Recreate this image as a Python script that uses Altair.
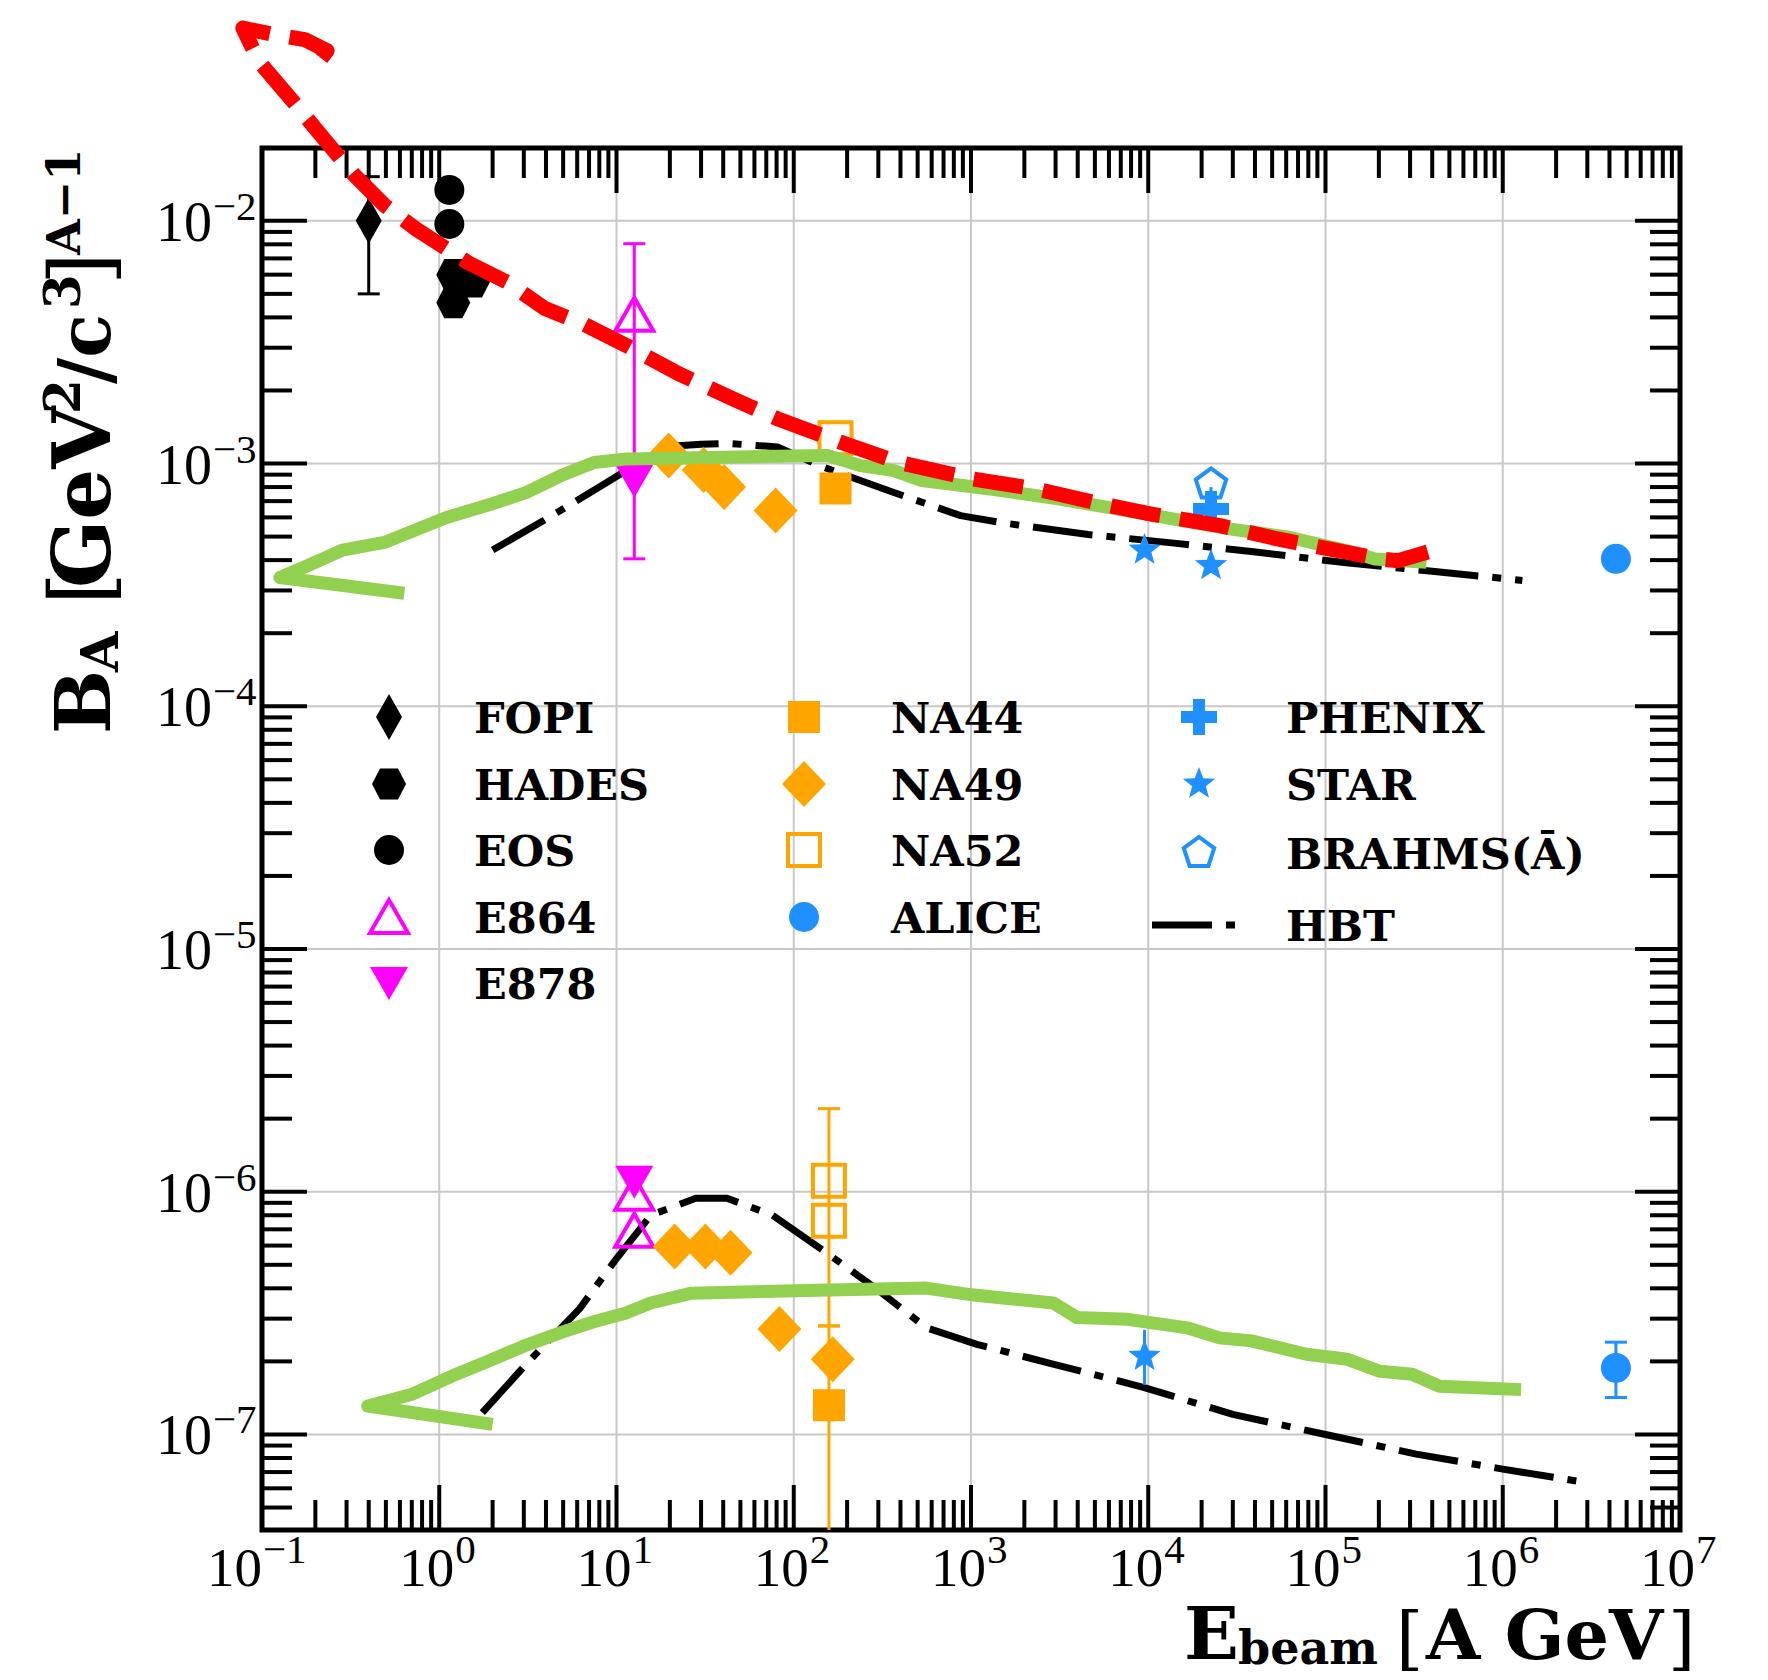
import altair as alt
import pandas as pd

# ---------------- data ----------------
FOPI_X = [0.40]
FOPI_Y = [1.0e-2]
HADES_X = [1.20, 1.20, 1.55]
HADES_Y = [6.0e-3, 4.6e-3, 5.6e-3]
EOS_X = [1.14, 1.14]
EOS_Y = [1.34e-2, 9.7e-3]
E864_X = [12.6, 12.6, 12.6]
E864_Y = [4.1e-3, 9.8e-7, 6.9e-7]
E878_X = [12.6, 12.6]
E878_Y = [8.5e-4, 1.10e-6]
NA44_X = [172, 158]
NA44_Y = [7.9e-4, 1.32e-7]
NA49_X = [19.7, 31.0, 40.5, 79.0, 21.3, 31.7, 44.0, 83.0, 166.0]
NA49_Y = [1.08e-3, 9.4e-4, 8.0e-4, 6.4e-4, 5.95e-7, 5.95e-7, 5.6e-7, 2.72e-7, 2.04e-7]
NA52_X = [172, 158, 158]
NA52_Y = [1.27e-3, 1.11e-6, 7.6e-7]
ALICE_X = [4.35e6, 4.35e6]
ALICE_Y = [4.05e-4, 1.88e-7]
PHENIX_X = [2.26e4]
PHENIX_Y = [6.5e-4]
STAR_X = [9.53e3, 2.26e4, 9.53e3]
STAR_Y = [4.4e-4, 3.8e-4, 2.1e-7]
BRAHMS_X = [2.26e4]
BRAHMS_Y = [8.2e-4]

# error bars
ERR_EXP = ["FOPI", "E864", "NA52", "NA44", "STAR", "ALICE", "BRAHMS"]
ERR_X = [0.40, 12.6, 158, 158, 9.53e3, 4.35e6, 2.26e4]
ERR_LO = [5.0e-3, 4.05e-4, 2.8e-7, 1.0e-8, 1.6e-7, 1.42e-7, 6.7e-4]
ERR_HI = [1.52e-2, 8.05e-3, 2.2e-6, 2.8e-7, 2.7e-7, 2.4e-7, 8.0e-4]
ERR_CAP = [True, True, True, True, False, True, False]

# HBT curves
HBT_UP_X = [2.0, 4.0, 8.0, 15.9, 21.4, 30, 43, 81, 140, 200, 367, 873, 1500, 4580, 1.4e4, 4.28e4, 1.31e5, 4.0e5, 1.29e6]
HBT_UP_Y = [4.4e-4, 5.9e-4, 8.0e-4, 1.09e-3, 1.18e-3, 1.20e-3, 1.21e-3, 1.17e-3, 9.8e-4, 8.9e-4, 7.6e-4, 6.1e-4, 5.7e-4, 5.1e-4, 4.7e-4, 4.3e-4, 3.9e-4, 3.6e-4, 3.3e-4]
HBT_LO_X = [1.75, 3.2, 6.2, 9.8, 15.6, 28, 42, 76, 148, 290, 560, 1080, 2900, 9500, 3.0e4, 1.0e5, 3.25e5, 1.0e6, 3.1e6]
HBT_LO_Y = [1.23e-7, 2.0e-7, 3.3e-7, 5.2e-7, 8.0e-7, 9.4e-7, 9.4e-7, 8.0e-7, 5.7e-7, 4.0e-7, 2.75e-7, 2.35e-7, 1.95e-7, 1.56e-7, 1.21e-7, 1.0e-7, 8.3e-8, 7.2e-8, 6.3e-8]

# hand-drawn green arrows (path order)
GREEN_UP_X = [3.715e5, 1.9e5, 1.31e5, 6.22e4, 2.94e4, 1.4e4, 6640, 3155, 1290, 528, 367, 238, 155, 11.5, 7.46, 4.84, 3.08, 1.97, 1.09, 0.49, 0.284, 0.182, 0.126, 0.635]
GREEN_UP_Y = [3.92e-4, 4.04e-4, 4.38e-4, 4.97e-4, 5.37e-4, 5.90e-4, 6.50e-4, 7.14e-4, 7.85e-4, 8.51e-4, 9.35e-4, 9.8e-4, 1.08e-3, 1.045e-3, 1.01e-3, 8.9e-4, 7.59e-4, 6.81e-4, 5.98e-4, 4.73e-4, 4.40e-4, 3.80e-4, 3.39e-4, 2.92e-4]
GREEN_LO_X = [1.27e6, 4.4e5, 3.08e5, 2.03e5, 1.33e5, 7.82e4, 3.82e4, 2.52e4, 1.66e4, 7660, 3970, 2920, 1510, 1010, 558, 158, 26.5, 15.6, 11.2, 7.53, 5.07, 2.99, 1.87, 1.18, 0.695, 0.395, 2.0]
GREEN_LO_Y = [1.53e-7, 1.58e-7, 1.77e-7, 1.82e-7, 2.04e-7, 2.14e-7, 2.43e-7, 2.50e-7, 2.75e-7, 2.98e-7, 3.03e-7, 3.48e-7, 3.65e-7, 3.76e-7, 4.01e-7, 3.94e-7, 3.82e-7, 3.48e-7, 3.16e-7, 2.92e-7, 2.66e-7, 2.31e-7, 2.0e-7, 1.74e-7, 1.46e-7, 1.31e-7, 1.10e-7]

# hand-drawn red dashed arrow (path order, curl first)
RED_X = [0.216, 0.233, 0.174, 0.112, 0.078, 0.0966, 0.150, 0.200, 0.330, 0.490, 0.730, 1.46, 2.40, 3.95, 6.50, 11.8, 22.5, 47.4, 80.7, 186, 392, 1030, 2340, 4930, 1.04e4, 2.54e4, 5.36e4, 1.31e5, 2.05e5, 2.57e5, 3.78e5]
RED_Y = [0.0467, 0.0502, 0.0558, 0.0589, 0.0622, 0.0451, 0.0310, 0.0240, 0.0155, 0.0116, 0.00931, 0.00671, 0.00560, 0.00435, 0.00376, 0.00302, 0.00234, 0.00182, 0.00153, 0.00122, 0.00101, 8.63e-4, 7.85e-4, 6.92e-4, 6.19e-4, 5.55e-4, 4.89e-4, 4.31e-4, 4.04e-4, 3.98e-4, 4.32e-4]

# axes
X_MAJOR = [1e-1, 1e0, 1e1, 1e2, 1e3, 1e4, 1e5, 1e6, 1e7]
X_LABEL_EXP = ["\u22121", "0", "1", "2", "3", "4", "5", "6", "7"]
Y_MAJOR = [1e-7, 1e-6, 1e-5, 1e-4, 1e-3, 1e-2]
Y_LABEL_EXP = ["\u22127", "\u22126", "\u22125", "\u22124", "\u22123", "\u22122"]
MINOR_MULT = [2, 3, 4, 5, 6, 7, 8, 9]
X_DOMAIN = [1e-1, 1e7]
Y_DOMAIN = [4.04e-8, 1.995e-2]

# ---------------- styling ----------------
W, H = 1418, 1382
XS = alt.Scale(type="log", domain=X_DOMAIN, nice=False)
YS = alt.Scale(type="log", domain=Y_DOMAIN, nice=False)
BLACK, MAGENTA, ORANGE, BLUE = "#000000", "#ff00ff", "#ffa500", "#1e90ff"
GREEN, RED = "#92d050", "#ff0000"
SERIF = "Liberation Serif"
BOLD = "DejaVu Serif"

P = {
    "thin_diamond": "M0,-1.15L0.65,0L0,1.15L-0.65,0Z",
    "hexagon": "M-0.85,0L-0.45,-0.78L0.45,-0.78L0.85,0L0.45,0.78L-0.45,0.78Z",
    "tri_up": "M0,-0.85L0.95,0.8L-0.95,0.8Z",
    "tri_down": "M0,0.85L0.95,-0.8L-0.95,-0.8Z",
    "square": "M-0.8,-0.8L0.8,-0.8L0.8,0.8L-0.8,0.8Z",
    "diamond": "M0,-1.15L1.1,0L0,1.15L-1.1,0Z",
    "plus": "M-0.3,-0.9L0.3,-0.9L0.3,-0.3L0.9,-0.3L0.9,0.3L0.3,0.3L0.3,0.9L-0.3,0.9L-0.3,0.3L-0.9,0.3L-0.9,-0.3L-0.3,-0.3Z",
    "star": "M0,-0.85L0.2116,-0.2912L0.8084,-0.2627L0.3424,0.1112L0.4996,0.6877L0,0.36L-0.4996,0.6877L-0.3424,0.1112L-0.8084,-0.2627L-0.2116,-0.2912Z",
    "pentagon": "M0,-0.8L0.7608,-0.2472L0.4702,0.6472L-0.4702,0.6472L-0.7608,-0.2472Z",
}

EXPS = [
    ("FOPI", FOPI_X, FOPI_Y, P["thin_diamond"], BLACK, True, 1600),
    ("HADES", HADES_X, HADES_Y, P["hexagon"], BLACK, True, 1600),
    ("EOS", EOS_X, EOS_Y, "circle", BLACK, True, 900),
    ("E864", E864_X, E864_Y, P["tri_up"], MAGENTA, False, 1600),
    ("E878", E878_X, E878_Y, P["tri_down"], MAGENTA, True, 1600),
    ("NA44", NA44_X, NA44_Y, P["square"], ORANGE, True, 1600),
    ("NA49", NA49_X, NA49_Y, P["diamond"], ORANGE, True, 1600),
    ("NA52", NA52_X, NA52_Y, P["square"], ORANGE, False, 1600),
    ("ALICE", ALICE_X, ALICE_Y, "circle", BLUE, True, 900),
    ("PHENIX", PHENIX_X, PHENIX_Y, P["plus"], BLUE, True, 1600),
    ("STAR", STAR_X, STAR_Y, P["star"], BLUE, True, 1600),
    ("BRAHMS", BRAHMS_X, BRAHMS_Y, P["pentagon"], BLUE, False, 1600),
]
EXP_COLOR = {e[0]: e[4] for e in EXPS}
LEGEND_LABEL = {"BRAHMS": "BRAHMS(\u0100)"}

ONE = pd.DataFrame({"k": [0]})


def X(field="x"):
    return alt.X(f"{field}:Q", scale=XS, axis=None)


def Y(field="y"):
    return alt.Y(f"{field}:Q", scale=YS, axis=None)


layers = []

# grid
gx = pd.DataFrame({"v": X_MAJOR[1:-1]})
gy = pd.DataFrame({"v": Y_MAJOR})
layers.append(alt.Chart(gx).mark_rule(color="#c8c8c8", strokeWidth=2).encode(
    x=X("v"), y=alt.value(0), y2=alt.value(H)))
layers.append(alt.Chart(gy).mark_rule(color="#c8c8c8", strokeWidth=2).encode(
    y=Y("v"), x=alt.value(0), x2=alt.value(W)))

# ticks (inward on all four sides)
x_minor = [m * 10.0 ** d for d in range(-1, 7) for m in MINOR_MULT]
y_minor = [m * 10.0 ** d for d in range(-8, -1) for m in MINOR_MULT
           if Y_DOMAIN[0] < m * 10.0 ** d < Y_DOMAIN[1]]
for vals, ln in ((X_MAJOR, 45), (x_minor, 30)):
    d = pd.DataFrame({"v": vals})
    layers.append(alt.Chart(d).mark_rule(color=BLACK, strokeWidth=4).encode(
        x=X("v"), y=alt.value(H), y2=alt.value(H - ln)))
    layers.append(alt.Chart(d).mark_rule(color=BLACK, strokeWidth=4).encode(
        x=X("v"), y=alt.value(0), y2=alt.value(ln)))
for vals, ln in ((Y_MAJOR, 45), (y_minor, 30)):
    d = pd.DataFrame({"v": vals})
    layers.append(alt.Chart(d).mark_rule(color=BLACK, strokeWidth=4).encode(
        y=Y("v"), x=alt.value(0), x2=alt.value(ln)))
    layers.append(alt.Chart(d).mark_rule(color=BLACK, strokeWidth=4).encode(
        y=Y("v"), x=alt.value(W), x2=alt.value(W - ln)))


def line_layer(xs, ys, color, width, dash=None, join="round"):
    df = pd.DataFrame({"x": xs, "y": ys, "i": list(range(len(xs)))})
    kw = dict(color=color, strokeWidth=width, strokeJoin=join)
    if dash:
        kw["strokeDash"] = dash
    return alt.Chart(df).mark_line(**kw).encode(x=X(), y=Y(), order=alt.Order("i:Q"))


HBT_DASH = [60, 14, 9, 14]
layers.append(line_layer(HBT_UP_X, HBT_UP_Y, BLACK, 7, HBT_DASH))
layers.append(line_layer(HBT_LO_X, HBT_LO_Y, BLACK, 7, HBT_DASH))

# error bars
err = pd.DataFrame({"exp": ERR_EXP, "x": ERR_X, "lo": ERR_LO, "hi": ERR_HI, "cap": ERR_CAP})
err["c"] = [EXP_COLOR[e] for e in ERR_EXP]
layers.append(alt.Chart(err).mark_rule(strokeWidth=3, clip=True).encode(
    x=X(), y=Y("lo"), y2=alt.Y2("hi:Q"), color=alt.Color("c:N", scale=None)))
for end in ("lo", "hi"):
    layers.append(alt.Chart(err).transform_filter("datum.cap").mark_rule(
        strokeWidth=3, clip=True, xOffset=-11, x2Offset=11).encode(
        x=X(), x2=alt.X2("x:Q"), y=Y(end), color=alt.Color("c:N", scale=None)))

# data points
for name, xs, ys, shape, color, filled, size in EXPS:
    df = pd.DataFrame({"x": xs, "y": ys})
    kw = dict(shape=shape, size=size, opacity=1, filled=filled, color=color)
    if not filled:
        kw["strokeWidth"] = 4
    layers.append(alt.Chart(df).mark_point(**kw).encode(x=X(), y=Y()))

# hand-drawn arrows
layers.append(line_layer(GREEN_UP_X, GREEN_UP_Y, GREEN, 13))
layers.append(line_layer(GREEN_LO_X, GREEN_LO_Y, GREEN, 13))
layers.append(line_layer(RED_X, RED_Y, RED, 15, [50, 20]))

# legend (pixel layout inside the frame)
LEG_MARK_X = [127, 542, 937]
LEG_TEXT_X = [212, 629, 1024]
LEG_ROWS = [[569, 636, 702, 769, 835], [569, 636, 702, 769], [569, 636, 705, 777]]
LEG_COLS = [["FOPI", "HADES", "EOS", "E864", "E878"],
            ["NA44", "NA49", "NA52", "ALICE"],
            ["PHENIX", "STAR", "BRAHMS", "HBT"]]
style = {e[0]: e for e in EXPS}
for ci, col in enumerate(LEG_COLS):
    for ri, name in enumerate(col):
        py = LEG_ROWS[ci][ri]
        if name == "HBT":
            layers.append(alt.Chart(ONE).mark_rule(color=BLACK, strokeWidth=7, strokeDash=HBT_DASH).encode(
                x=alt.value(LEG_MARK_X[ci] - 47), x2=alt.value(LEG_MARK_X[ci] + 36), y=alt.value(py)))
        else:
            _, _, _, shape, color, filled, size = style[name]
            kw = dict(shape=shape, size=size, opacity=1, filled=filled, color=color)
            if not filled:
                kw["strokeWidth"] = 4
            layers.append(alt.Chart(ONE).mark_point(**kw).encode(
                x=alt.value(LEG_MARK_X[ci]), y=alt.value(py)))
        layers.append(alt.Chart(ONE).mark_text(
            text=LEGEND_LABEL.get(name, name), font=BOLD, fontWeight="bold", fontSize=43,
            align="left", baseline="alphabetic", color=BLACK).encode(
            x=alt.value(LEG_TEXT_X[ci]), y=alt.value(py + 16)))

# tick labels
xl = pd.DataFrame({"v": X_MAJOR, "exp": X_LABEL_EXP})
xl["neg"] = [e.startswith("\u2212") for e in X_LABEL_EXP]
for neg, dx in ((True, 0), (False, 15)):
    sub = xl[xl["neg"] == neg]
    layers.append(alt.Chart(sub).mark_text(text="10", font=SERIF, fontSize=55, align="right",
                                           baseline="alphabetic", dx=dx, color=BLACK).encode(
        x=X("v"), y=alt.value(H + 56)))
    layers.append(alt.Chart(sub).mark_text(font=SERIF, fontSize=41, align="left",
                                           baseline="alphabetic", dx=dx + 1, color=BLACK).encode(
        x=X("v"), y=alt.value(H + 33), text="exp:N"))
yl = pd.DataFrame({"v": Y_MAJOR, "exp": Y_LABEL_EXP})
layers.append(alt.Chart(yl).mark_text(text="10", font=SERIF, fontSize=56, align="right",
                                      baseline="alphabetic", dy=20, color=BLACK).encode(
    y=Y("v"), x=alt.value(-50)))
layers.append(alt.Chart(yl).mark_text(font=SERIF, fontSize=41, align="left",
                                      baseline="alphabetic", dy=-1, color=BLACK).encode(
    y=Y("v"), x=alt.value(-49), text="exp:N"))

# x title: E_beam [A GeV]
for txt, px, py, fs, wt in [("E", 922, H + 129, 72, "bold"), ("beam", 976, H + 134, 46, "bold"),
                            ("[", 1134, H + 132, 70, "normal"), ("A GeV", 1164, H + 129, 70, "bold"),
                            ("]", 1406, H + 132, 70, "normal")]:
    layers.append(alt.Chart(ONE).mark_text(text=txt, font=BOLD, fontWeight=wt, fontSize=fs,
                                           align="left", baseline="alphabetic", color=BLACK).encode(
        x=alt.value(px), y=alt.value(py)))

# y title: B_A [GeV^2/c^3]^(A-1), rotated
for txt, px, py, fs, wt in [("B", -152, 586, 76, "bold"), ("A", -144, 524, 52, "bold"),
                            ("[", -152, 457, 84, "normal"), ("GeV", -152, 440, 80, "bold"),
                            ("2", -182, 266, 50, "bold"), ("/c", -152, 236, 72, "bold"),
                            ("3", -182, 161, 50, "bold"), ("]", -152, 137, 84, "normal"),
                            ("A\u22121", -182, 107, 46, "bold")]:
    layers.append(alt.Chart(ONE).mark_text(text=txt, font=BOLD, fontWeight=wt, fontSize=fs, angle=270,
                                           align="left", baseline="alphabetic", color=BLACK).encode(
        x=alt.value(px), y=alt.value(py)))

chart = alt.layer(*layers).properties(
    width=W, height=H,
    autosize=alt.AutoSizeParams(type="none"),
    padding={"left": 262, "top": 148, "right": 88, "bottom": 150},
    background="white",
).configure_view(stroke=BLACK, strokeWidth=5)

chart.save("out.html", embed_options={"renderer": "svg", "actions": False})
